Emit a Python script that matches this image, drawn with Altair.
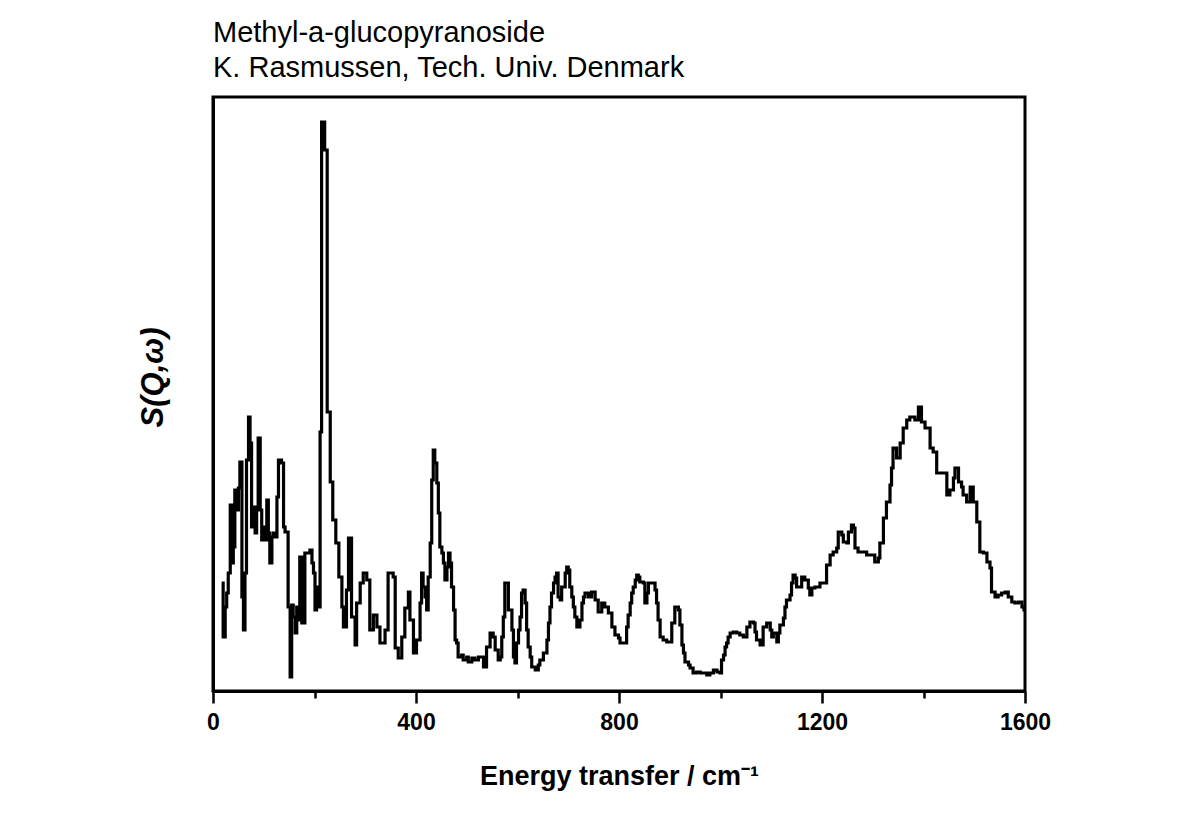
import altair as alt
import pandas as pd

energy = [17, 20, 24, 27, 30, 34, 37, 40, 43, 47, 50, 53, 57, 60, 63, 66, 70, 73, 76, 79,
          83, 86, 89, 93, 96, 99, 103, 106, 109, 112, 116, 119, 122, 126, 129, 135, 139, 142,
          148, 152, 155, 158, 162, 165, 168, 171, 175, 181, 191, 195, 198, 201, 204, 208, 211,
          214, 220, 225, 231, 236, 242, 248, 254, 257, 263, 267, 273, 280, 283, 290, 296, 303,
          309, 316, 323, 329, 339, 345, 355, 359, 365, 372, 378, 385, 388, 395, 401, 408, 411,
          414, 418, 421, 424, 428, 431, 434, 437, 441, 444, 447, 451, 454, 457, 461, 464, 467,
          470, 474, 477, 480, 483, 490, 493, 500, 503, 510, 516, 523, 533, 539, 546, 552, 556,
          562, 566, 569, 572, 575, 582, 589, 592, 595, 598, 602, 605, 608, 611, 615, 618, 621,
          625, 628, 635, 641, 644, 651, 658, 661, 664, 667, 671, 674, 677, 680, 684, 687, 694,
          697, 700, 703, 707, 710, 713, 717, 723, 727, 730, 733, 740, 746, 753, 759, 766, 772,
          779, 786, 792, 799, 802, 815, 818, 822, 825, 828, 832, 835, 838, 841, 848, 851, 855,
          858, 871, 874, 877, 881, 887, 894, 904, 910, 917, 920, 924, 927, 930, 937, 940, 946,
          953, 960, 973, 979, 986, 993, 999, 1002, 1006, 1009, 1012, 1015, 1019, 1025, 1032,
          1038, 1045, 1052, 1058, 1065, 1068, 1071, 1078, 1084, 1091, 1098, 1101, 1104, 1111,
          1114, 1117, 1124, 1127, 1130, 1137, 1140, 1143, 1147, 1150, 1160, 1166, 1173, 1176,
          1180, 1186, 1196, 1209, 1216, 1222, 1229, 1232, 1239, 1242, 1249, 1252, 1258, 1262,
          1265, 1271, 1288, 1304, 1311, 1314, 1321, 1327, 1334, 1337, 1340, 1347, 1354, 1360,
          1367, 1373, 1383, 1390, 1396, 1403, 1413, 1419, 1426, 1446, 1452, 1459, 1462, 1469,
          1475, 1478, 1485, 1492, 1498, 1505, 1511, 1518, 1525, 1531, 1534, 1541, 1547, 1554,
          1561, 1567, 1574, 1580, 1587, 1594, 1598, 1600]

intensity = [1.08, 0.54, 0.84, 0.98, 1.18, 1.86, 1.28, 1.44, 2.01, 1.81, 2.03, 2.29, 0.94, 0.61,
             1.18, 2.31, 2.74, 2.48, 1.64, 1.84, 1.58, 1.81, 2.53, 1.81, 1.51, 1.64, 1.51, 1.91,
             1.58, 1.28, 1.54, 1.58, 1.54, 1.94, 2.31, 2.28, 1.64, 1.59, 0.84, 0.14, 0.86, 0.74,
             0.58, 0.84, 0.71, 1.34, 0.68, 1.38, 1.41, 1.28, 1.18, 0.81, 1.04, 0.84, 2.59, 5.69,
             5.41, 2.79, 2.09, 1.71, 1.48, 1.14, 0.84, 0.64, 1.01, 1.53, 0.74, 0.46, 0.88, 1.08,
             1.18, 1.11, 0.61, 0.76, 0.64, 0.48, 0.61, 1.18, 1.14, 0.43, 0.33, 0.54, 0.83, 0.99,
             0.71, 0.38, 0.51, 0.88, 1.18, 1.04, 0.94, 0.81, 1.14, 1.48, 2.11, 2.41, 2.28, 2.08,
             1.78, 1.44, 1.38, 1.28, 1.11, 1.24, 1.38, 1.28, 1.04, 0.81, 0.51, 0.48, 0.34, 0.36,
             0.31, 0.34, 0.29, 0.33, 0.31, 0.34, 0.24, 0.44, 0.58, 0.54, 0.41, 0.31, 0.34, 0.54,
             0.74, 1.08, 0.81, 0.61, 0.34, 0.28, 0.48, 0.61, 0.74, 0.98, 1.01, 0.88, 0.61, 0.44,
             0.34, 0.24, 0.21, 0.26, 0.31, 0.38, 0.51, 0.68, 0.84, 0.98, 1.08, 1.14, 1.18, 0.94,
             0.91, 1.04, 1.18, 1.24, 1.21, 1.04, 0.94, 0.84, 0.74, 0.64, 0.71, 0.88, 0.94, 0.98,
             0.94, 0.99, 0.91, 0.79, 0.88, 0.84, 0.78, 0.64, 0.56, 0.53, 0.48, 0.64, 0.76, 0.88,
             0.98, 1.04, 1.11, 1.16, 1.14, 1.09, 1.08, 0.88, 0.98, 1.08, 1.01, 0.88, 0.71, 0.54,
             0.51, 0.49, 0.68, 0.84, 0.81, 0.66, 0.46, 0.38, 0.29, 0.26, 0.23, 0.18, 0.19, 0.18,
             0.16, 0.18, 0.21, 0.19, 0.18, 0.31, 0.36, 0.44, 0.48, 0.54, 0.58, 0.59, 0.58, 0.56,
             0.54, 0.64, 0.69, 0.68, 0.59, 0.51, 0.46, 0.64, 0.68, 0.61, 0.54, 0.58, 0.49, 0.58,
             0.66, 0.73, 0.84, 0.91, 0.96, 1.08, 1.16, 1.13, 1.04, 1.14, 1.11, 1.03, 0.96, 1.03,
             1.04, 1.08, 1.26, 1.36, 1.39, 1.43, 1.59, 1.56, 1.49, 1.48, 1.59, 1.66, 1.63, 1.43,
             1.39, 1.36, 1.29, 1.33, 1.48, 1.73, 1.89, 2.06, 2.23, 2.43, 2.33, 2.48, 2.63, 2.71,
             2.74, 2.71, 2.84, 2.69, 2.63, 2.43, 2.39, 2.18, 1.96, 2.01, 2.13, 2.23, 2.09, 2.04,
             1.96, 1.89, 2.04, 1.89, 1.69, 1.39, 1.38, 1.29, 1.23, 0.99, 0.94, 0.96, 0.98, 0.99,
             0.94, 0.89, 0.88, 0.89, 0.84, 0.81, 0.81]

x_ticks = [0, 200, 400, 600, 800, 1000, 1200, 1400, 1600]

title_lines = ["Methyl-a-glucopyranoside", "K. Rasmussen, Tech. Univ. Denmark"]

df = pd.DataFrame({"energy": energy, "intensity": intensity})

FONT = "Liberation Sans"

chart = alt.Chart(df).mark_line(
    interpolate="step-after", color="black", strokeWidth=3.2, strokeJoin="miter"
).encode(
    x=alt.X("energy:Q",
            scale=alt.Scale(domain=[0, 1600], nice=False, zero=False),
            axis=alt.Axis(
                values=x_ticks, format="d",
                title="Energy transfer / cm\u207b\u00b9",
                titleFont=FONT, titleFontSize=27, titleFontWeight="bold", titleColor="black",
                titlePadding=29,
                labelFont=FONT, labelFontSize=23, labelFontWeight="bold", labelColor="black",
                labelPadding=8,
                labelExpr="datum.value % 400 === 0 ? datum.label : ''",
                labelFlush=False,
                tickColor="black", tickWidth=2.5,
                tickSize={"condition": {"test": "datum.value % 400 === 0", "value": 12}, "value": 7},
                domainColor="black", domainWidth=3, grid=False)),
    y=alt.Y("intensity:Q",
            scale=alt.Scale(domain=[0, 5.94], nice=False, zero=True),
            axis=alt.Axis(
                title="S(Q,\u03c9)",
                titleFont=FONT, titleFontSize=31, titleFontWeight="bold", titleFontStyle="italic",
                titleColor="black", titlePadding=44, titleY=280,
                labels=False, ticks=False, domainColor="black", domainWidth=3, grid=False)),
).properties(
    width=812, height=594,
    title=alt.Title(title_lines, anchor="start", font=FONT, fontSize=29, fontWeight="normal",
                    color="black", lineHeight=35, offset=14, frame="group"),
    padding={"left": 205, "top": 89, "right": 150, "bottom": 120},
    autosize=alt.AutoSizeParams(type="none"),
).configure_view(stroke="black", strokeWidth=3)

chart.save("out.html", embed_options={"renderer": "svg", "actions": False})
